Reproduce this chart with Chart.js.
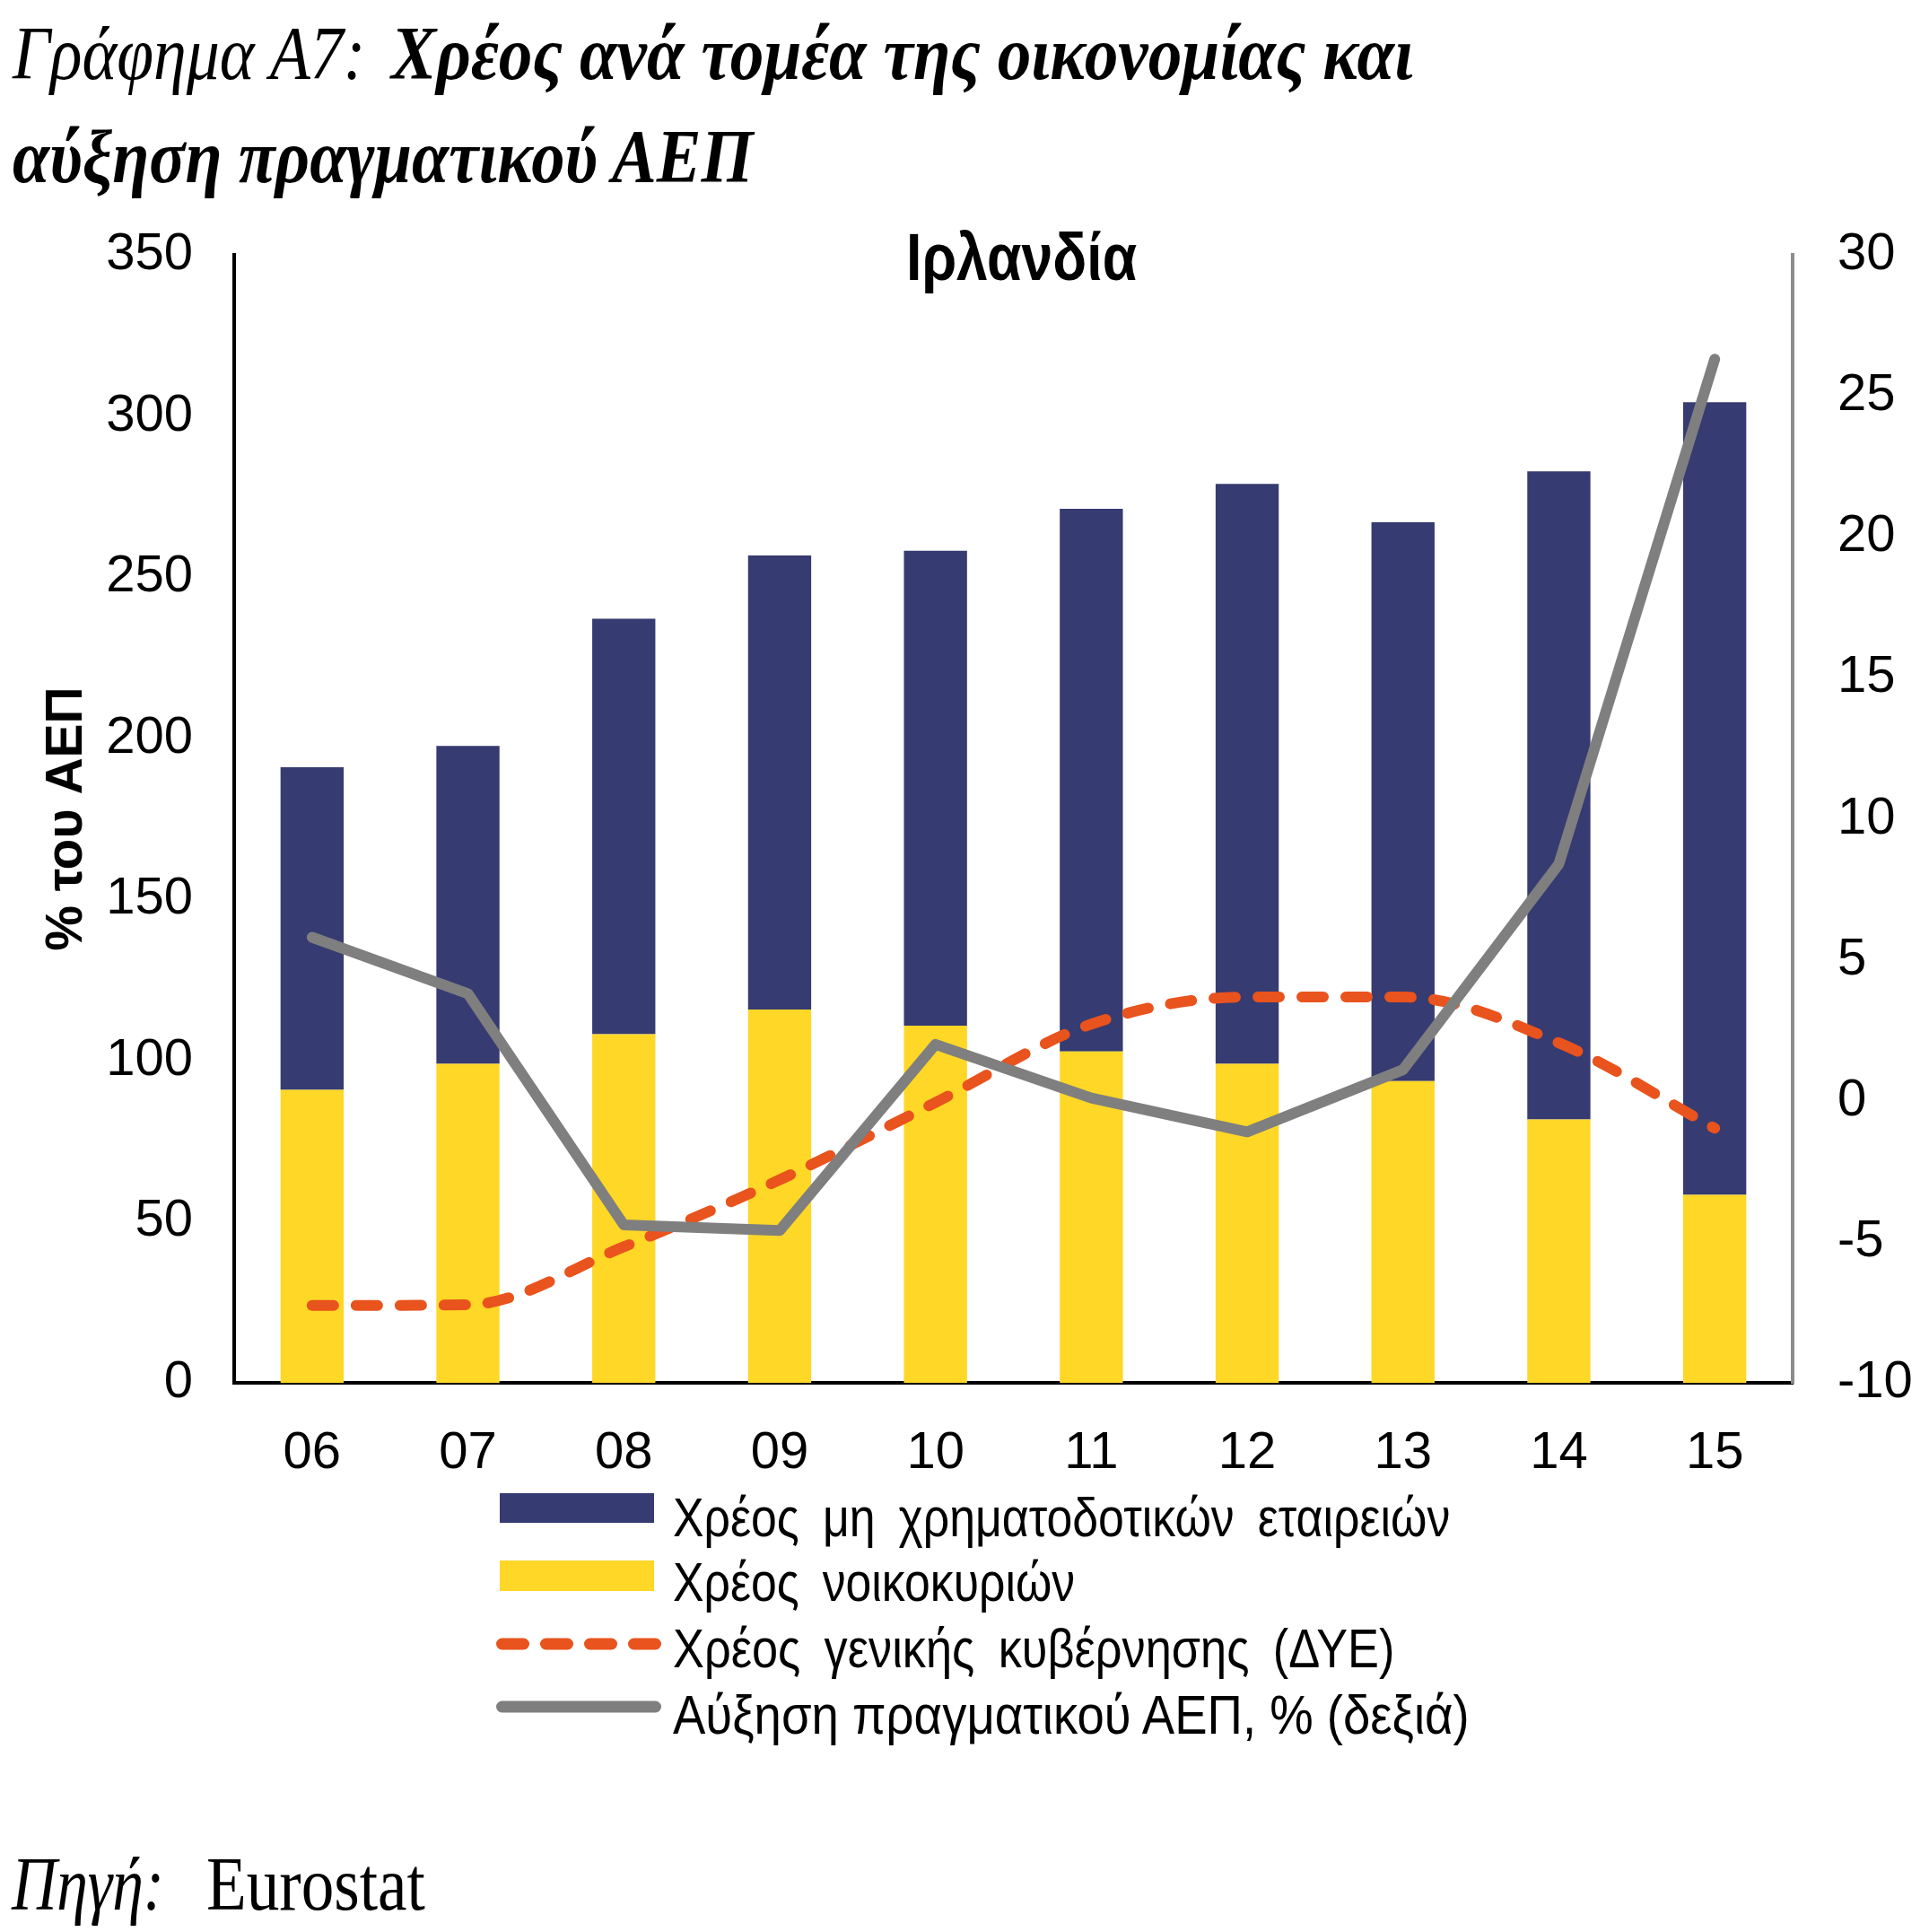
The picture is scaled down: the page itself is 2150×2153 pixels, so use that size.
<!DOCTYPE html>
<html lang="el">
<head>
<meta charset="utf-8">
<title>Ιρλανδία</title>
<script src="https://cdn.jsdelivr.net/npm/chart.js@4.4.1/dist/chart.umd.min.js"></script>
<style>
  html, body { margin: 0; padding: 0; background: #fff; }
  body { width: 2150px; height: 2153px; position: relative; overflow: hidden; }
  #chart { position: absolute; left: 0; top: 0; }
  .txt { position: absolute; white-space: pre; line-height: 1; transform-origin: 0 0; color: #000; }
  .serif { font-family: 'Liberation Serif', 'Times New Roman', serif; font-size: 84px; font-style: italic; }
  .bold { font-weight: bold; }
  .sans { font-family: 'Liberation Sans', Arial, sans-serif; font-size: 62px; }
  .sw { position: absolute; left: 557px; width: 172px; }
  svg { position: absolute; }
</style>
</head>
<body>
<canvas id="chart" width="2150" height="2153"></canvas>

<div class="txt serif" id="t1a" style="left:14px; top:18px;">Γράφημα Α7:</div>
<div class="txt serif bold" id="t1b" style="left:436px; top:18px;">Χρέος ανά τομέα της οικονομίας και</div>
<div class="txt serif bold" id="t2" style="left:14px; top:133px;">αύξηση πραγματικού ΑΕΠ</div>

<div class="txt sans bold" id="country" style="left:1010px; top:250px; font-size:74px;">Ιρλανδία</div>

<div class="sw" style="top:1664px; height:33px; background:#363B71;"></div>
<div class="sw" style="top:1739px; height:34px; background:#FED727;"></div>
<svg style="left:540px; top:1800px;" width="220" height="64">
  <line x1="19.5" y1="32" x2="190.5" y2="32" stroke="#E9531D" stroke-width="13" stroke-linecap="round" stroke-dasharray="24 25"/>
</svg>
<svg style="left:540px; top:1870px;" width="220" height="64">
  <line x1="19.5" y1="32" x2="190.5" y2="32" stroke="#7F7F7F" stroke-width="13" stroke-linecap="round"/>
</svg>

<div class="txt sans" id="l1" style="left:750px; top:1660px; word-spacing:14px;">Χρέος μη χρηματοδοτικών εταιρειών</div>
<div class="txt sans" id="l2" style="left:750px; top:1732px; word-spacing:14px;">Χρέος νοικοκυριών</div>
<div class="txt sans" id="l3" style="left:750px; top:1806px; word-spacing:14px;">Χρέος γενικής κυβέρνησης (ΔΥΕ)</div>
<div class="txt sans" id="l4" style="left:750px; top:1880px;">Αύξηση πραγματικού ΑΕΠ, % (δεξιά)</div>

<div class="txt serif" id="s1" style="left:13px; top:2058px;">Πηγή:</div>
<div class="txt serif" id="s2" style="left:230px; top:2058px; font-style:normal;">Eurostat</div>

<script>
const years = ['06', '07', '08', '09', '10', '11', '12', '13', '14', '15'];
const householdDebt = [90.9, 99.0, 108.2, 115.8, 110.8, 102.8, 99.0, 93.6, 81.7, 58.3];
const corporateDebt = [100.1, 98.6, 128.9, 140.9, 147.4, 168.4, 179.9, 173.4, 201.1, 246.0];
const governmentDebt = [24.0, 24.2, 42.2, 63.0, 87.0, 111.3, 119.7, 119.7, 105.5, 79.0];
const gdpGrowth = [5.8, 3.8, -4.4, -4.6, 2.0, 0.1, -1.1, 1.1, 8.4, 26.3];

const leftTicks = [0, 50, 100, 150, 200, 250, 300, 350];
const rightTicks = [-10, -5, 0, 5, 10, 15, 20, 25, 30];

// squeeze the html texts to the widths of the original
function fit(id, width) {
    const el = document.getElementById(id);
    el.style.transform = 'scaleX(' + (width / el.offsetWidth) + ')';
}
fit('t1a', 393);
fit('t1b', 1139);
fit('t2', 826);
fit('country', 257);
fit('l1', 866);
fit('l2', 448);
fit('l3', 804);
fit('l4', 888);
fit('s1', 170);
fit('s2', 244);

const tickFont = { family: "'Liberation Sans', Arial, sans-serif", size: 58 };

const ctx = document.getElementById('chart');

const chart = new Chart(ctx, {
    type: 'bar',
    data: {
        labels: years,
        datasets: [{
            type: 'line',
            label: 'Αύξηση πραγματικού ΑΕΠ, % (δεξιά)',
            data: gdpGrowth,
            yAxisID: 'y1',
            borderColor: '#7F7F7F',
            borderWidth: 12,
            borderCapStyle: 'round',
            borderJoinStyle: 'round',
            pointRadius: 0,
            tension: 0,
            order: 0
        }, {
            type: 'line',
            label: 'Χρέος γενικής κυβέρνησης (ΔΥΕ)',
            data: governmentDebt,
            yAxisID: 'y',
            borderColor: '#E9531D',
            borderWidth: 12,
            borderDash: [24, 25],
            borderCapStyle: 'round',
            pointRadius: 0,
            cubicInterpolationMode: 'monotone',
            order: 1
        }, {
            label: 'Χρέος νοικοκυριών',
            data: householdDebt,
            yAxisID: 'y',
            stack: 'debt',
            backgroundColor: '#FED727',
            borderWidth: 0,
            barPercentage: 0.405,
            categoryPercentage: 1,
            order: 2
        }, {
            label: 'Χρέος μη χρηματοδοτικών εταιρειών',
            data: corporateDebt,
            yAxisID: 'y',
            stack: 'debt',
            backgroundColor: '#363B71',
            borderWidth: 0,
            barPercentage: 0.405,
            categoryPercentage: 1,
            order: 3
        }]
    },
    options: {
        responsive: false,
        devicePixelRatio: 1,
        animation: false,
        layout: { padding: { top: 284, left: 0, right: 0, bottom: 0 } },
        plugins: {
            legend: { display: false },
            tooltip: { enabled: false },
            title: { display: false }
        },
        scales: {
            x: {
                grid: { display: false, drawTicks: false },
                border: { display: true, color: '#000', width: 4 },
                ticks: { color: '#000', font: tickFont, padding: 44 },
                afterFit: s => { s.height = 612; }
            },
            y: {
                position: 'left',
                min: 0,
                max: 350,
                grid: { display: false, drawTicks: false },
                border: { display: true, color: '#000', width: 4 },
                ticks: { color: '#000', font: tickFont, padding: 46 },
                afterBuildTicks: s => { s.ticks = leftTicks.map(v => ({ value: v })); },
                title: {
                    display: true,
                    text: '% του ΑΕΠ',
                    color: '#000',
                    font: { family: "'Liberation Sans', Arial, sans-serif", size: 57, weight: 'bold' },
                    padding: { top: 41, bottom: 0 }
                },
                afterFit: s => { s.width = 261; }
            },
            y1: {
                position: 'right',
                min: -10,
                max: 30,
                grid: { display: false, drawTicks: false },
                border: { display: true, color: '#8C8C8C', width: 4 },
                ticks: { color: '#000', font: tickFont, padding: 50 },
                afterBuildTicks: s => { s.ticks = rightTicks.map(v => ({ value: v })); },
                afterFit: s => { s.width = 152; }
            }
        }
    }
});
</script>
</body>
</html>
